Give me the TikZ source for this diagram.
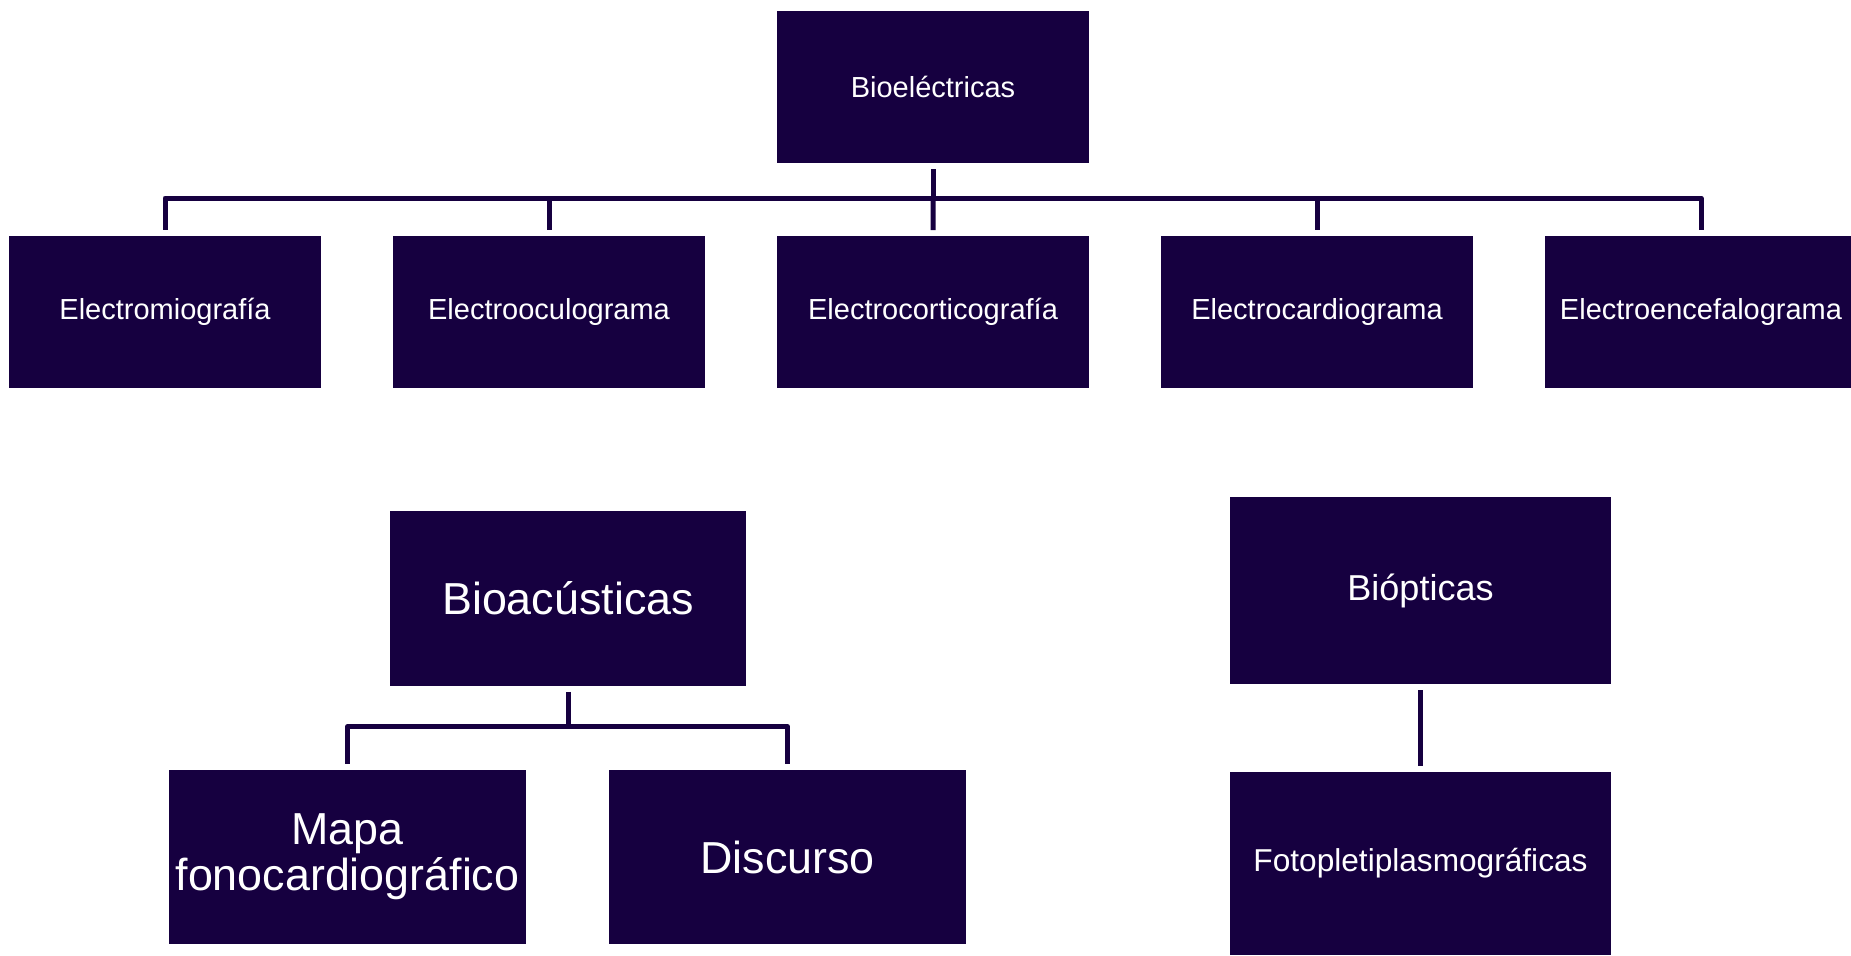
\documentclass[tikz,border=0pt]{standalone}
\usepackage{fontspec}
\setmainfont{Liberation Sans}
\definecolor{boxfill}{HTML}{160040}
\begin{document}
\begin{tikzpicture}[
  box/.style={fill=boxfill, text=white, align=center, inner sep=0pt, outer sep=0.12cm,
    minimum width=6.24cm, minimum height=3.04cm, font=\fontsize{16.5}{19}\selectfont},
  bigbox/.style={box, minimum width=7.13cm, minimum height=3.49cm, font=\fontsize{25.5}{26}\selectfont},
  optbox/.style={box, minimum width=7.62cm},
  conn/.style={draw=boxfill, line width=0.1cm, line join=round}]
\useasboundingbox (0,0) rectangle (37.02,-19.10);
% bioelectricas
\node[box] (bioelec) at (18.66,-1.74) {Bioeléctricas};
\node[box] (emg) at (3.30,-6.24) {Electromiografía};
\node[box, right of=emg, node distance=7.68cm] (eog) {Electrooculograma};
\node[box, right of=eog, node distance=7.68cm] (ecog) {Electrocorticografía};
\node[box, right of=ecog, node distance=7.68cm] (ecg) {Electrocardiograma};
\node[box, right of=ecg, node distance=7.68cm] (eeg) {Electroencefalograma};
\draw[conn] (bioelec.south) -- ++(0,-0.58) coordinate (bus);
\draw[conn] (bus) -| (emg.north);
\draw[conn] (bus) -| (eog.north);
\draw[conn] (bus) -- (ecog.north);
\draw[conn] (bus) -| (ecg.north);
\draw[conn] (bus) -| (eeg.north);
% bioacusticas
\node[bigbox] (bioacus) at (11.36,-11.97) {Bioacústicas};
\node[bigbox] (mapa) at (6.95,-17.14) {Mapa\\fonocardiográfico};
\node[bigbox] (discurso) at (15.75,-17.14) {Discurso};
\draw[conn] (bioacus.south) -- ++(0,-0.70) coordinate (acbus);
\draw[conn] (acbus) -| (mapa.north);
\draw[conn] (acbus) -| (discurso.north);
% biopticas
\node[optbox, minimum height=3.74cm, font=\fontsize{20.5}{24}\selectfont] (bioopt) at (28.41,-11.81) {Biópticas};
\node[optbox, minimum height=3.66cm, font=\fontsize{18}{21}\selectfont] (foto) at (28.41,-17.27) {Fotopletiplasmográficas};
\draw[conn] (bioopt.south) -- (foto.north);
\end{tikzpicture}
\end{document}
